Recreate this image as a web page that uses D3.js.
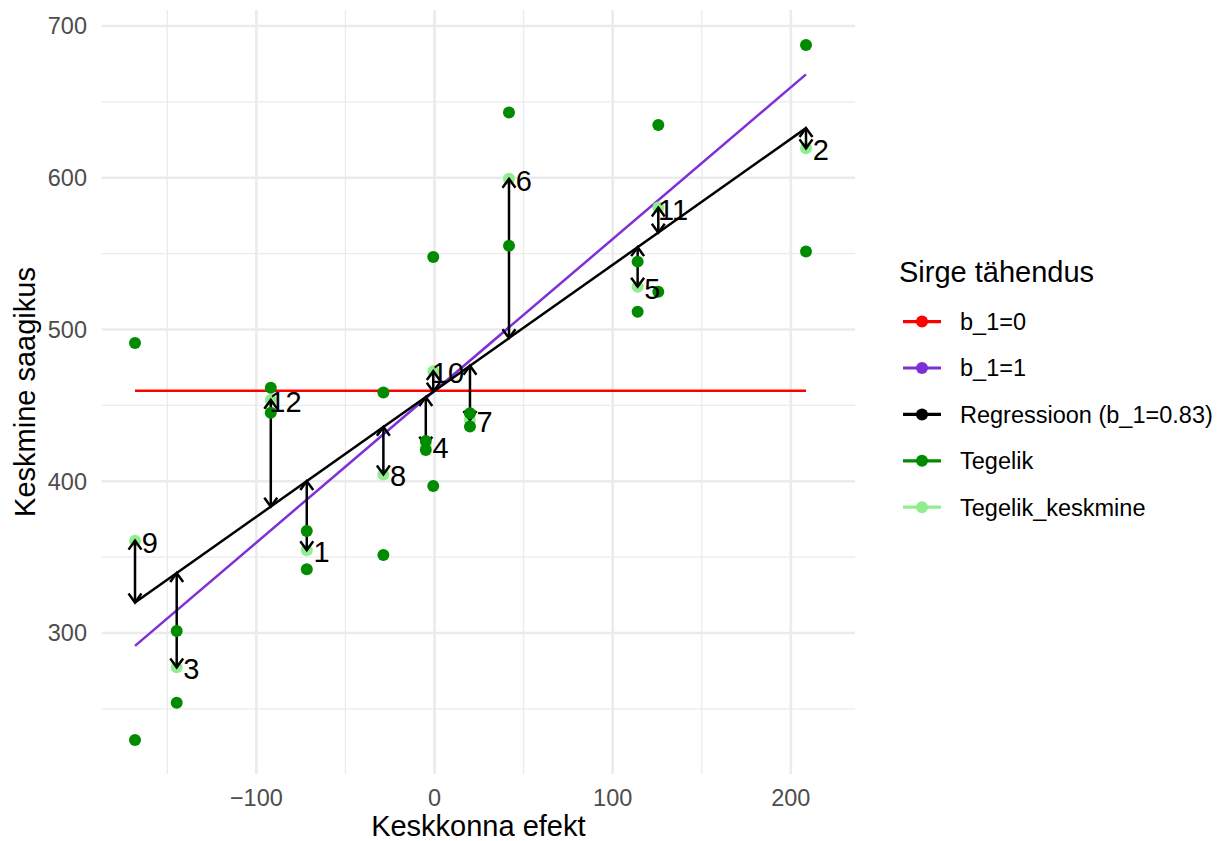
<!DOCTYPE html>
<html>
<head>
<meta charset="utf-8">
<script src="https://cdn.jsdelivr.net/npm/d3@7"></script>
<style>
  html, body { margin: 0; padding: 0; background: #ffffff; }
  svg { display: block; font-family: "Liberation Sans", Arial, Helvetica, sans-serif; }
</style>
</head>
<body>
<svg id="chart" width="1220" height="841"></svg>
<script>
// ---- data ----
const envLabels = ["1","2","3","4","5","6","7","8","9","10","11","12"];
const envEffect = [-71.7, 208.5, -144.7, -4.9, 114.0, 41.8, 19.9, -28.7, -168.1, -0.7, 125.6, -91.9];
const tegelikA  = [367.2, 687.5, 301.3, 426.5, 544.7, 642.9, 444.8, 458.4, 491.1, 547.8, 634.8, 461.6];
const tegelikB  = [342.0, 551.3, 254.1, 420.6, 511.7, 555.2, 436.0, 351.4, 229.5, 396.9, 524.9, 445.2];
const tegelikKeskmine = [354.6, 619.4, 277.4, 423.5, 528.2, 599.3, 440.4, 404.5, 360.8, 472.5, 580.3, 453.6];
const regressioon = [400.1, 632.7, 339.5, 455.5, 554.2, 494.3, 476.1, 435.8, 320.1, 459.0, 563.8, 383.3];
const grandMean = 459.6;
const slopeReg = 0.83;
const slopeOne = 1;
const xTicks = [-100, 0, 100, 200];
const xMinor = [-150, -50, 50, 150];
const yTicks = [300, 400, 500, 600, 700];
const yMinor = [250, 350, 450, 550, 650];
const legendTitle = "Sirge tähendus";
const legendItems = ["b_1=0", "b_1=1", "Regressioon (b_1=0.83)", "Tegelik", "Tegelik_keskmine"];
const legendColors = ["#FF0000", "#7F2FD6", "#000000", "#008B00", "#90EE90"];
const xTitle = "Keskkonna efekt";
const yTitle = "Keskmine saagikus";

// ---- layout ----
const svg = d3.select("#chart");
const panel = { left: 101.7, right: 855, top: 10, bottom: 774 };
const x = d3.scaleLinear().domain([-186.8, 236]).range([panel.left, panel.right]);
const y = d3.scaleLinear().domain([207.1, 710.5]).range([panel.bottom, panel.top]);
const GRID = "#EBEBEB";

const data = envLabels.map((lab, i) => ({
  lab, x: envEffect[i], a: tegelikA[i], b: tegelikB[i], m: tegelikKeskmine[i], p: regressioon[i]
}));

// grid
const g = svg.append("g");
g.selectAll(".ymin").data(yMinor).join("line")
  .attr("x1", panel.left).attr("x2", panel.right)
  .attr("y1", d => y(d)).attr("y2", d => y(d))
  .attr("stroke", GRID).attr("stroke-width", 1.3);
g.selectAll(".xmin").data(xMinor).join("line")
  .attr("y1", panel.top).attr("y2", panel.bottom)
  .attr("x1", d => x(d)).attr("x2", d => x(d))
  .attr("stroke", GRID).attr("stroke-width", 1.3);
g.selectAll(".ymaj").data(yTicks).join("line")
  .attr("x1", panel.left).attr("x2", panel.right)
  .attr("y1", d => y(d)).attr("y2", d => y(d))
  .attr("stroke", GRID).attr("stroke-width", 2.6);
g.selectAll(".xmaj").data(xTicks).join("line")
  .attr("y1", panel.top).attr("y2", panel.bottom)
  .attr("x1", d => x(d)).attr("x2", d => x(d))
  .attr("stroke", GRID).attr("stroke-width", 2.6);

// axis tick labels
const fmt = d3.format("");
svg.append("g").selectAll("text").data(yTicks).join("text")
  .attr("x", 87).attr("y", d => y(d) + 8.3)
  .attr("text-anchor", "end").attr("font-size", 23.5).attr("fill", "#4D4D4D")
  .text(d => fmt(d));
svg.append("g").selectAll("text").data(xTicks).join("text")
  .attr("x", d => x(d)).attr("y", 805.5)
  .attr("text-anchor", "middle").attr("font-size", 23.5).attr("fill", "#4D4D4D")
  .text(d => fmt(d));

// axis titles
svg.append("text").attr("x", (panel.left + panel.right) / 2).attr("y", 836)
  .attr("text-anchor", "middle").attr("font-size", 29).attr("fill", "#000").text(xTitle);
svg.append("text")
  .attr("transform", `translate(35,${(panel.top + panel.bottom) / 2}) rotate(-90)`)
  .attr("text-anchor", "middle").attr("font-size", 29).attr("fill", "#000").text(yTitle);

// lines
const xmin = d3.min(envEffect), xmax = d3.max(envEffect);
const lineDefs = [
  { slope: 0, color: legendColors[0] },
  { slope: slopeOne, color: legendColors[1] },
  { slope: slopeReg, color: legendColors[2] }
];
svg.append("g").selectAll("line").data(lineDefs).join("line")
  .attr("x1", x(xmin)).attr("x2", x(xmax))
  .attr("y1", d => y(grandMean + d.slope * xmin))
  .attr("y2", d => y(grandMean + d.slope * xmax))
  .attr("stroke", d => d.color).attr("stroke-width", 2.5);

// mean points (light green)
svg.append("g").selectAll("circle").data(data).join("circle")
  .attr("cx", d => x(d.x)).attr("cy", d => y(d.m)).attr("r", 6)
  .attr("fill", legendColors[4]);

// arrows (double-headed, open heads)
const headLen = 11, headAng = 36 * Math.PI / 180;
const arrows = svg.append("g").attr("stroke", "#000").attr("stroke-width", 2.5)
  .attr("fill", "none").attr("stroke-linecap", "butt");
data.forEach(d => {
  const px = x(d.x), y1 = y(d.p), y2 = y(d.m);
  arrows.append("line").attr("x1", px).attr("x2", px).attr("y1", y1).attr("y2", y2);
  [[y1, y2], [y2, y1]].forEach(([tip, from]) => {
    const dir = tip > from ? 1 : -1;
    const dy = -dir * headLen * Math.cos(headAng);
    const dx = headLen * Math.sin(headAng);
    arrows.append("path")
      .attr("d", `M${px - dx},${tip + dy} L${px},${tip} L${px + dx},${tip + dy}`)
      .attr("stroke-linejoin", "miter");
  });
});

// actual points (dark green)
const obs = [];
data.forEach(d => { obs.push({ x: d.x, v: d.a }); obs.push({ x: d.x, v: d.b }); });
svg.append("g").selectAll("circle").data(obs).join("circle")
  .attr("cx", d => x(d.x)).attr("cy", d => y(d.v)).attr("r", 6)
  .attr("fill", legendColors[3]);

// labels
const labelNudge = 8.26;
svg.append("g").selectAll("text").data(data).join("text")
  .attr("x", d => x(d.x + labelNudge)).attr("y", d => y(d.m) + 12)
  .attr("text-anchor", "middle").attr("font-size", 29).attr("fill", "#000")
  .text(d => d.lab);

// legend
const leg = svg.append("g");
leg.append("text").attr("x", 899).attr("y", 282).attr("font-size", 29).attr("fill", "#000").text(legendTitle);
legendItems.forEach((t, i) => {
  const cy = 321.6 + i * 46.4;
  leg.append("line").attr("x1", 903).attr("x2", 941).attr("y1", cy).attr("y2", cy)
    .attr("stroke", legendColors[i]).attr("stroke-width", 3.2);
  leg.append("circle").attr("cx", 922).attr("cy", cy).attr("r", 6).attr("fill", legendColors[i]);
  leg.append("text").attr("x", 960).attr("y", cy + 8.4).attr("font-size", 23.5).attr("fill", "#000").text(t);
});
</script>
</body>
</html>
